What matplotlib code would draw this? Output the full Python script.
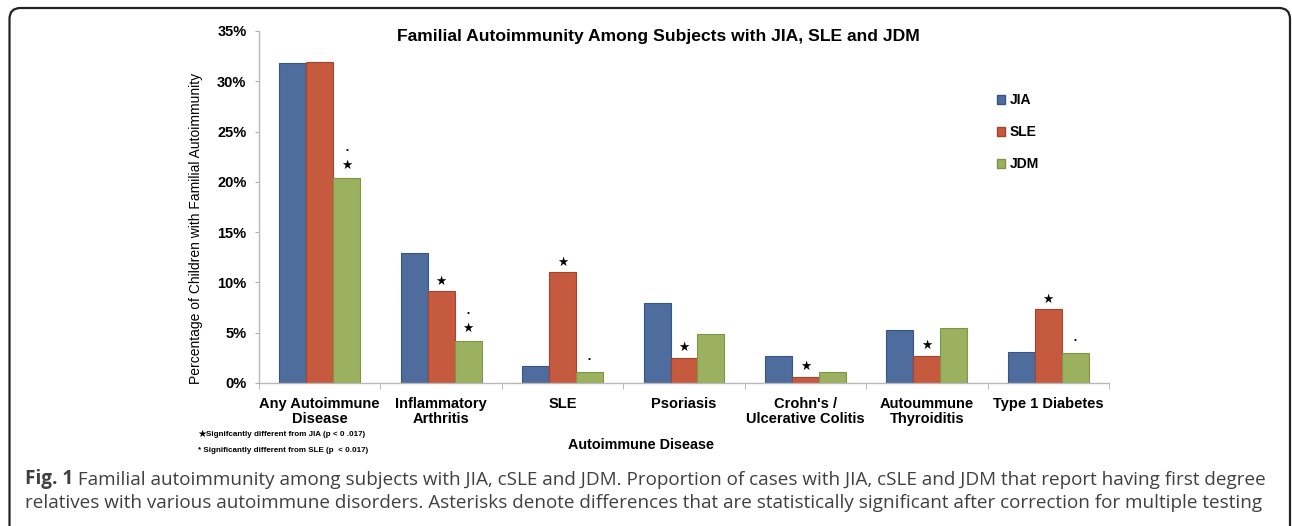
import matplotlib
matplotlib.use("Agg")
import matplotlib.pyplot as plt
import numpy as np
from matplotlib.patches import FancyBboxPatch, Patch

plt.rcParams['font.family'] = ['Liberation Sans', 'DejaVu Sans']

# data (percent)
categories = ["Any Autoimmune\nDisease", "Inflammatory\nArthritis", "SLE", "Psoriasis",
              "Crohn's /\nUlcerative Colitis", "Autoummune\nThyroiditis", "Type 1 Diabetes"]
series = ["JIA", "SLE", "JDM"]
jia = [31.8, 12.9, 1.65, 7.95, 2.7, 5.25, 3.1]
sle = [31.9, 9.1, 11.0, 2.5, 0.6, 2.7, 7.35]
jdm = [20.4, 4.2, 1.05, 4.9, 1.05, 5.45, 2.95]
# significance flags: star = different from JIA, dot = different from SLE
star_sle = [0, 1, 1, 1, 1, 1, 1]
star_jdm = [1, 1, 0, 0, 0, 0, 0]
dot_jdm = [1, 1, 1, 0, 0, 0, 1]
yticks = [0, 5, 10, 15, 20, 25, 30, 35]

colors = ["#4e6c9e", "#c65a3f", "#9cb15f"]
edges = ["#3b5581", "#a5442d", "#7f9446"]

W, H = 1292, 526
fig = plt.figure(figsize=(W / 100, H / 100), dpi=100)
ax = fig.add_axes([259 / W, 1 - 383 / H, (1109 - 259) / W, (383 - 31) / H])

x = np.arange(len(categories))
w = 0.222
vals = [jia, sle, jdm]
for j, v in enumerate(vals):
    ax.bar(x + (j - 1) * w, v, width=w, color=colors[j], edgecolor=edges[j],
           linewidth=0.8, label=series[j], zorder=2)

# significance markers
for i in range(len(categories)):
    if star_sle[i]:
        ax.text(x[i], sle[i] + 1.0, "\u2605", ha='center', va='center', fontsize=9,
                family=['DejaVu Sans'])
    if star_jdm[i]:
        ax.text(x[i] + w, jdm[i] + 1.25, "\u2605", ha='center', va='center', fontsize=9,
                family=['DejaVu Sans'])
    if dot_jdm[i]:
        top = jdm[i] + (2.7 if star_jdm[i] else 1.3)
        ax.text(x[i] + w, top, "\u2022", ha='center', va='center', fontsize=6)

ax.set_xlim(-0.5, len(categories) - 0.5)
ax.set_ylim(0, 35)
ax.set_yticks(yticks)
ax.set_yticklabels([f"{t}%" for t in yticks], fontweight='bold', fontsize=10.5)
ax.set_xticks(x)
ax.set_xticklabels(categories, fontweight='bold', fontsize=10.5, linespacing=1.1)
ax.set_xticks(np.arange(len(categories) + 1) - 0.5, minor=True)
ax.tick_params(axis='x', which='major', length=0, pad=10)
ax.tick_params(axis='x', which='minor', length=4, color='#b0b0b0', direction='out')
ax.tick_params(axis='y', length=3, color='#b0b0b0', pad=6)
for s in ['top', 'right']:
    ax.spines[s].set_visible(False)
for s in ['left', 'bottom']:
    ax.spines[s].set_color('#b8b8b8')
    ax.spines[s].set_linewidth(1.0)

ax.set_ylabel("Percentage of Children with Familial Autoimmunity", fontsize=10)
ax.yaxis.set_label_coords((203 - 259) / (1109 - 259), (383 - 228) / (383 - 31))
fig.text(641 / W, 1 - 445 / H, "Autoimmune Disease", ha='center', va='center',
         fontsize=10.4, fontweight='bold')
fig.text(658 / W, 1 - 37 / H, "Familial Autoimmunity Among Subjects with JIA, SLE and JDM",
         ha='center', va='center', fontsize=12.6, fontweight='bold')

handles = [Patch(facecolor=colors[j], edgecolor=edges[j], label=series[j]) for j in range(3)]
fig.legend(handles=handles, loc='upper left', bbox_to_anchor=(997 / W, 1 - 93 / H),
           frameon=False, prop={'weight': 'bold', 'size': 10},
           handlelength=0.6, handleheight=0.6, handletextpad=0.3, labelspacing=1.3,
           borderpad=0, borderaxespad=0)

# footnotes
fig.text(197 / W, 1 - 434 / H, "\u2605", ha='left', va='center', fontsize=7.5,
         family=['DejaVu Sans'])
fig.text(206 / W, 1 - 434 / H, "Signifcantly different from JIA (p < 0 .017)",
         ha='left', va='center', fontsize=5.8, fontweight='bold')
fig.text(198 / W, 1 - 451 / H, "* Significantly different from SLE (p  < 0.017)",
         ha='left', va='center', fontsize=5.8, fontweight='bold')

# caption
cap_color = '#404040'
cap_font = ['Open Sans', 'DejaVu Sans']
t1 = fig.text(25 / W, 1 - 489 / H, "Fig. 1", ha='left', va='bottom', fontsize=13.6,
              fontweight='bold', color=cap_color, family=cap_font)
ax.annotate(" Familial autoimmunity among subjects with JIA, cSLE and JDM. Proportion of cases "
            "with JIA, cSLE and JDM that report having first degree",
            xy=(1, 0), xycoords=t1, ha='left', va='bottom', fontsize=13.6,
            color=cap_color, family=cap_font, annotation_clip=False)
fig.text(25 / W, 1 - 512 / H, "relatives with various autoimmune disorders. Asterisks denote "
         "differences that are statistically significant after correction for multiple testing",
         ha='left', va='bottom', fontsize=13.6, color=cap_color, family=cap_font)

# rounded frame around figure
frame = FancyBboxPatch((9.5, -30), 1280.5, 548, boxstyle="round,pad=0,rounding_size=11",
                       transform=None, facecolor='none', edgecolor='#222222', linewidth=1.6)
fig.add_artist(frame)

fig.savefig("out.png", dpi=100)
